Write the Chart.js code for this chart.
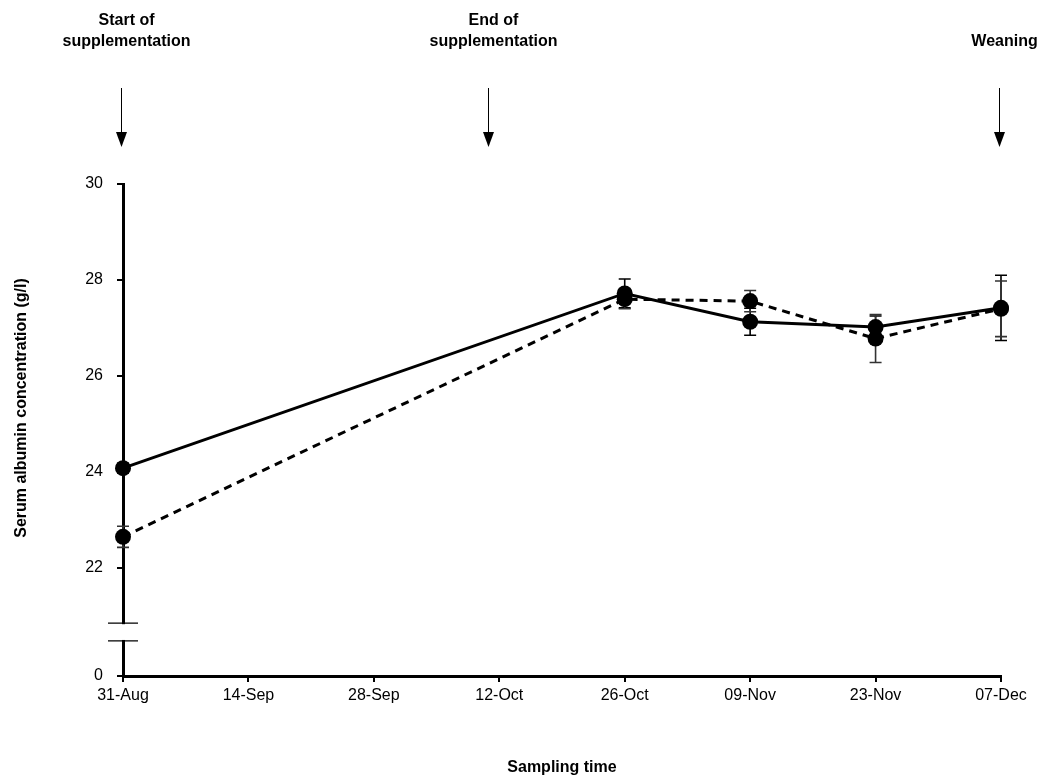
<!DOCTYPE html>
<html>
<head>
<meta charset="utf-8">
<script src="https://cdn.jsdelivr.net/npm/chart.js@4/dist/chart.umd.min.js"></script>
<style>
  html, body { margin: 0; padding: 0; background: #fff; }
  #wrap { width: 1051px; height: 783px; }
</style>
</head>
<body>
<div id="wrap"><canvas id="albumin"></canvas></div>
<script>
// DATA
// sampling days counted from 31-Aug
var sampleDays = [0, 56, 70, 84, 98];
var controlMean = [24.08, 27.72, 27.13, 27.02, 27.42];   // solid line
var controlErr = [0.1, 0.3, 0.28, 0.23, 0.68];
var supplMean = [22.65, 27.6, 27.56, 26.78, 27.4];       // dashed line
var supplErr = [0.22, 0.2, 0.22, 0.5, 0.58];

var xTickDays = [0, 14, 28, 42, 56, 70, 84, 98];
var xTickLabels = ['31-Aug', '14-Sep', '28-Sep', '12-Oct', '26-Oct', '09-Nov', '23-Nov', '07-Dec'];
var yTickLabels = ['0', '22', '24', '26', '28', '30'];
var yTickValues = [19.75, 22, 24, 26, 28, 30];   // '0' sits just under the axis break

var eventDays = [0, 41, 98];
var eventLabels = [['Start of', 'supplementation'], ['End of', 'supplementation'], ['Weaning']];

var FONT = '"Liberation Sans", Arial, sans-serif';

function toPoints(days, vals) {
    return days.map(function (d, i) { return { x: d, y: vals[i] }; });
}

// error bars, drawn under the lines
var errorBars = {
    id: 'errorBars',
    beforeDatasetsDraw: function (chart) {
        var c = chart.ctx, xs = chart.scales.x, ys = chart.scales.y;
        var sets = [[controlMean, controlErr, '#000'], [supplMean, supplErr, '#333']];
        c.save();
        c.lineWidth = 1.6;
        sets.forEach(function (s) {
            c.strokeStyle = s[2];
            sampleDays.forEach(function (d, i) {
                var x = xs.getPixelForValue(d);
                var y1 = ys.getPixelForValue(s[0][i] + s[1][i]);
                var y2 = ys.getPixelForValue(s[0][i] - s[1][i]);
                c.beginPath();
                c.moveTo(x, y1); c.lineTo(x, y2);
                c.moveTo(x - 6, y1); c.lineTo(x + 6, y1);
                c.moveTo(x - 6, y2); c.lineTo(x + 6, y2);
                c.stroke();
            });
        });
        c.restore();
    }
};

// axis break, arrows, labels, y title
var extras = {
    id: 'extras',
    afterDraw: function (chart) {
        var c = chart.ctx, xs = chart.scales.x, ys = chart.scales.y;
        var ax = chart.chartArea.left;
        var bTop = ys.getPixelForValue(20.85), bBot = ys.getPixelForValue(20.48);
        c.save();
        c.fillStyle = '#fff';
        c.fillRect(ax - 3, bTop + 1, 6, bBot - bTop - 2);
        c.strokeStyle = '#000';
        c.lineWidth = 1.2;
        c.beginPath();
        c.moveTo(ax - 15, bTop); c.lineTo(ax + 15, bTop);
        c.moveTo(ax - 15, bBot); c.lineTo(ax + 15, bBot);
        c.stroke();

        // event arrows
        c.fillStyle = '#000';
        c.font = 'bold 16px ' + FONT;
        c.textAlign = 'center';
        c.textBaseline = 'alphabetic';
        eventDays.forEach(function (d, i) {
            var x = Math.round(xs.getPixelForValue(d)) - 1.5;
            c.lineWidth = 1;
            c.beginPath();
            c.moveTo(x, 88); c.lineTo(x, 134);
            c.stroke();
            c.beginPath();
            c.moveTo(x - 5.5, 132); c.lineTo(x + 5.5, 132); c.lineTo(x, 147);
            c.closePath();
            c.fill();
            var lines = eventLabels[i];
            var y0 = lines.length === 2 ? 25 : 46;
            lines.forEach(function (t, k) {
                c.fillText(t, x + 5, y0 + k * 21);
            });
        });

        // y axis title
        c.translate(22, 408);
        c.rotate(-Math.PI / 2);
        c.textBaseline = 'middle';
        c.fillText('Serum albumin concentration (g/l)', 0, 0);
        c.restore();
    }
};

var ctx = document.getElementById('albumin').getContext('2d');
var chart = new Chart(ctx, {
    type: 'line',
    data: {
        datasets: [{
            label: 'Control',
            data: toPoints(sampleDays, controlMean),
            borderColor: '#000',
            backgroundColor: '#000',
            borderWidth: 3,
            pointRadius: 8,
            pointBackgroundColor: '#000',
            pointBorderWidth: 0,
            tension: 0,
            clip: false
        }, {
            label: 'Supplemented',
            data: toPoints(sampleDays, supplMean),
            borderColor: '#000',
            backgroundColor: '#000',
            borderWidth: 3,
            borderDash: [8, 6],
            pointRadius: 8,
            pointBackgroundColor: '#000',
            pointBorderWidth: 0,
            tension: 0,
            clip: false
        }]
    },
    options: {
        responsive: true,
        maintainAspectRatio: false,
        animation: false,
        layout: {
            padding: { top: 184, right: 50, left: 0, bottom: 0 }
        },
        plugins: {
            legend: { display: false },
            tooltip: { enabled: false }
        },
        scales: {
            x: {
                type: 'linear',
                min: 0,
                max: 98,
                afterBuildTicks: function (scale) {
                    scale.ticks = xTickDays.map(function (v) { return { value: v }; });
                },
                afterFit: function (scale) { scale.height = 107; },
                ticks: {
                    color: '#000',
                    font: { family: FONT, size: 16 },
                    padding: 4,
                    maxRotation: 0,
                    autoSkip: false,
                    callback: function (v) {
                        var i = xTickDays.indexOf(v);
                        return i >= 0 ? xTickLabels[i] : '';
                    }
                },
                grid: { drawOnChartArea: false, drawTicks: true, tickLength: 6, color: '#000', lineWidth: 2 },
                border: { color: '#000', width: 3 },
                title: {
                    display: true,
                    text: 'Sampling time',
                    color: '#000',
                    font: { family: FONT, size: 16, weight: 'bold' },
                    padding: { top: 0, bottom: 6 }
                }
            },
            y: {
                min: 19.75,
                max: 30,
                afterBuildTicks: function (scale) {
                    scale.ticks = yTickValues.map(function (v) { return { value: v }; });
                },
                afterFit: function (scale) { scale.width = 123; },
                ticks: {
                    color: '#000',
                    font: { family: FONT, size: 16 },
                    padding: 14,
                    autoSkip: false,
                    callback: function (v) {
                        var i = yTickValues.indexOf(v);
                        return i >= 0 ? yTickLabels[i] : '';
                    }
                },
                grid: { drawOnChartArea: false, drawTicks: true, tickLength: 6, color: '#000', lineWidth: 2 },
                border: { color: '#000', width: 3 }
            }
        }
    },
    plugins: [errorBars, extras]
});
</script>
</body>
</html>
